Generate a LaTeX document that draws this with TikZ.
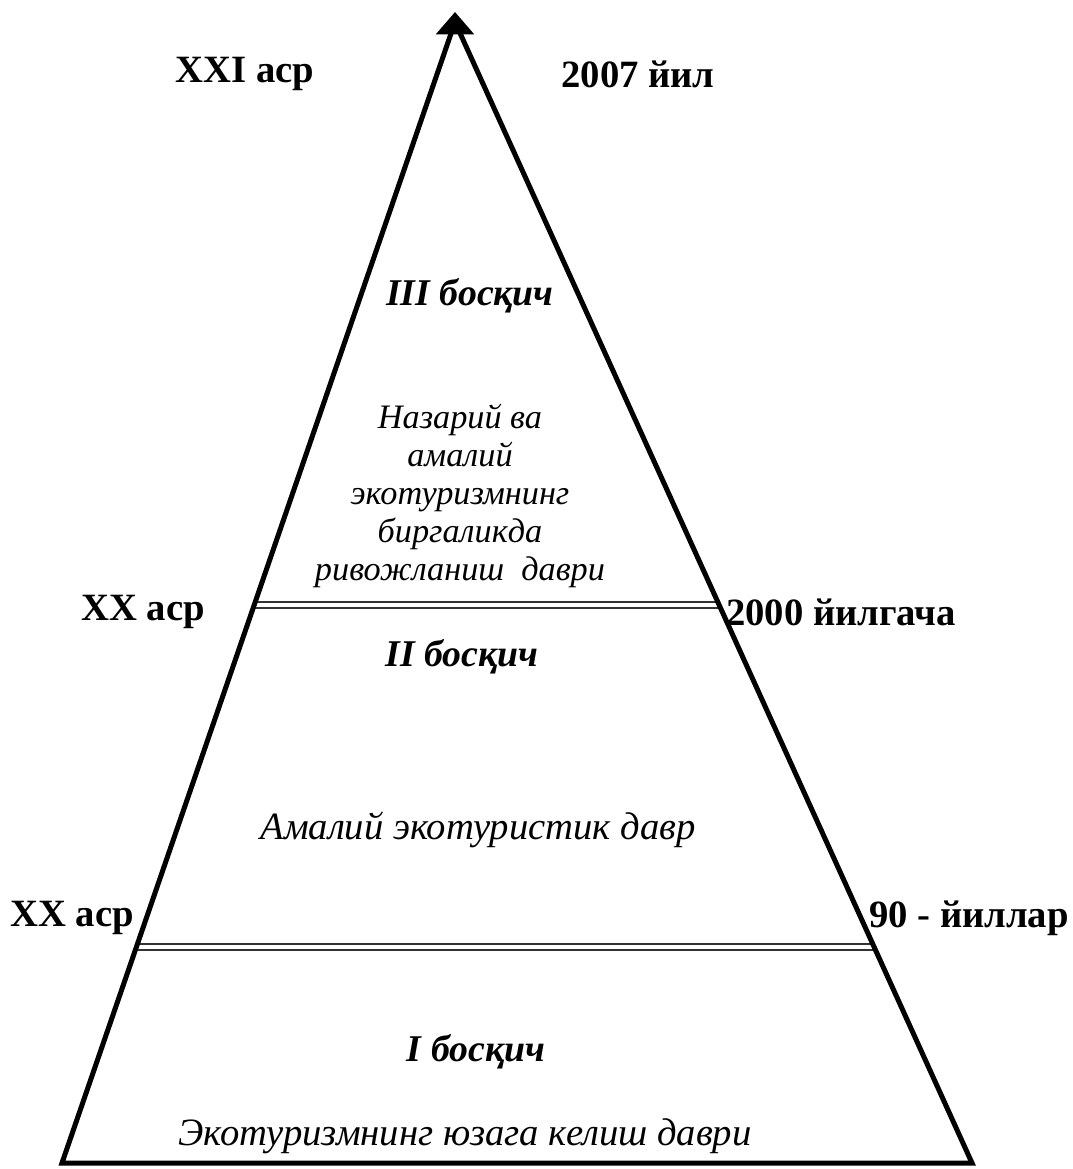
\documentclass[tikz,border=0pt]{standalone}
\usepackage{fontspec}
\setmainfont{Liberation Serif}
\usetikzlibrary{arrows.meta,calc}

\begin{document}
\begin{tikzpicture}[
  x=0.02cm, y=-0.02cm,
  side/.style={line width=0.1cm, line join=miter},
  divider/.style={draw=black!80, line width=0.045cm, double=white, double distance=0.07cm},
  datetag/.style={font=\fontsize{22}{26}\selectfont\bfseries, inner sep=0pt},
  stagetag/.style={font=\fontsize{21.5}{26}\selectfont\bfseries\itshape, inner sep=0pt},
  periodtag/.style={font=\fontsize{22}{26}\selectfont\itshape, inner sep=0pt, align=center}
]
  \useasboundingbox (0,0) rectangle (1072,1169);

  \coordinate (apex) at (455,22);
  \coordinate (tip) at (455,12);
  \coordinate (bl) at (62,1163);
  \coordinate (br) at (972,1163);

  \draw[divider] ($(apex)!0.511!(bl)$) -- ($(apex)!0.511!(br)$);
  \draw[divider] ($(apex)!0.8107!(bl)$) -- ($(apex)!0.8107!(br)$);

  \draw[side] (bl) -- (apex) -- (br) -- cycle;
  \draw[line width=0.1cm, -{Triangle[length=0.45cm, width=0.75cm]}] (apex) -- (tip);

  \node[datetag] (c21) at (245,74) {XXI аср};
  \node[datetag] (y2007) at (638,74) {2007 йил};
  \node[stagetag] (s3) at (470,296) {III босқич};
  \node[periodtag, font=\fontsize{19.5}{21.6}\selectfont\itshape] (p3) at (460,496) {Назарий ва\\амалий\\экотуризмнинг\\биргаликда\\ривожланиш\ \ даври};

  \node[datetag] (c20a) at (143,612) {XX аср};
  \node[datetag] (y2000) at (841,612) {2000 йилгача};
  \node[stagetag] (s2) at (462,657) {II босқич};
  \node[periodtag] (p2) at (478,830) {Амалий экотуристик давр};

  \node[datetag] (c20b) at (72,918) {XX аср};
  \node[datetag] (y90) at (969,918) {90 - йиллар};
  \node[stagetag] (s1) at (476,1052) {I босқич};
  \node[periodtag] (p1) at (465,1136) {Экотуризмнинг юзага келиш даври};
\end{tikzpicture}
\end{document}
